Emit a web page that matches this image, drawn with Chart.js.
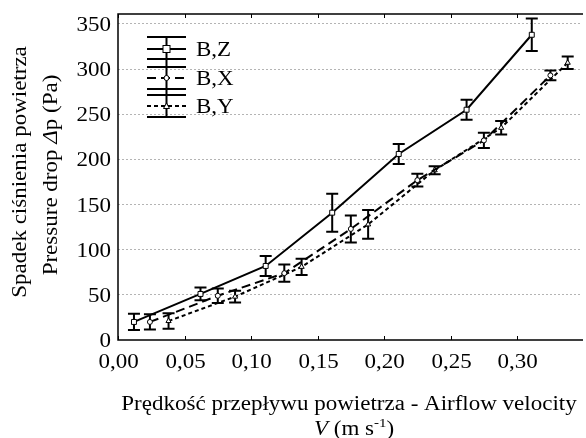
<!DOCTYPE html>
<html>
<head>
<meta charset="utf-8">
<script src="https://cdn.jsdelivr.net/npm/chart.js@4.4.0/dist/chart.umd.min.js"></script>
<style>
  html, body { margin: 0; padding: 0; background: #fff; }
  #wrap { width: 586px; height: 438px; position: relative; }
</style>
</head>
<body>
<div id="wrap"><canvas id="chart"></canvas></div>
<script>
// values
const seriesNames = ["B,Z", "B,X", "B,Y"]
const velZ = [0.012, 0.062, 0.111, 0.161, 0.211, 0.262, 0.311]
const dpZ = [20, 51, 82, 141, 206, 255, 338]
const errZ = [9, 7, 11, 21, 11, 11, 18]
const velX = [0.024, 0.075, 0.125, 0.175, 0.225, 0.275, 0.325]
const dpX = [20, 49, 74, 123, 177, 221, 293]
const errX = [8.5, 8, 9.5, 15, 7, 8.5, 5.5]
const velY = [0.038, 0.088, 0.138, 0.188, 0.238, 0.288, 0.338]
const dpY = [21, 48, 81, 128, 188, 235, 307]
const errY = [8.5, 6.5, 9, 16, 4.5, 7.5, 7]
const xTicks = [0, 0.05, 0.10, 0.15, 0.20, 0.25, 0.30]
const yTicks = [0, 50, 100, 150, 200, 250, 300, 350]

const FONT = "'Liberation Serif', 'Times New Roman', serif"
const F20 = "20px " + FONT
const SX = 1.15 // the reference text is a bit wider than plain Times
const errs = [errZ, errX, errY]
const dashes = [[], [9, 5], [4, 3]]

function toPoints(xs, ys) {
    return xs.map((x, i) => ({ x: x, y: ys[i] }))
}

// stretched text at (x, y), alphabetic baseline
function sText(c, str, x, y, font, align) {
    c.save()
    c.font = font
    c.textAlign = align
    c.textBaseline = "alphabetic"
    c.translate(x, y)
    c.scale(SX, 1)
    c.fillText(str, 0, 0)
    c.restore()
}

// text made of pieces with their own font, centred on x
function drawMixed(c, parts, x, y) {
    let total = 0
    parts.forEach(p => { c.font = p[0]; total += c.measureText(p[1]).width * SX })
    let px = x - total / 2
    parts.forEach(p => {
        c.font = p[0]
        const w = c.measureText(p[1]).width * SX
        sText(c, p[1], px, y + p[2], p[0], "left")
        px += w
    })
}

// error bars, drawn under the markers
const errorBars = {
    id: "errorBars",
    beforeDatasetsDraw(chart) {
        const c = chart.ctx
        const xs = chart.scales.x, ys = chart.scales.y
        c.save()
        c.strokeStyle = "#000"
        c.lineWidth = 2
        chart.data.datasets.forEach((ds, k) => {
            ds.data.forEach((p, i) => {
                const px = xs.getPixelForValue(p.x)
                const top = ys.getPixelForValue(p.y + errs[k][i])
                const bot = ys.getPixelForValue(p.y - errs[k][i])
                c.beginPath()
                c.moveTo(px, top); c.lineTo(px, bot)
                c.moveTo(px - 6, top); c.lineTo(px + 6, top)
                c.moveTo(px - 6, bot); c.lineTo(px + 6, bot)
                c.stroke()
            })
        })
        c.restore()
    },
}

// frame, tick marks and labels, legend and axis titles
const decorations = {
    id: "decorations",
    afterDraw(chart) {
        const c = chart.ctx
        const a = chart.chartArea
        const xs = chart.scales.x, ys = chart.scales.y
        c.save()
        c.strokeStyle = "#000"
        c.fillStyle = "#000"
        c.lineWidth = 1.5
        c.beginPath()
        c.moveTo(a.right + 2, a.top); c.lineTo(a.left, a.top)
        c.lineTo(a.left, a.bottom); c.lineTo(a.right + 2, a.bottom)
        c.stroke()
        c.lineWidth = 1
        xTicks.forEach(v => {
            const px = Math.round(xs.getPixelForValue(v)) + 0.5
            c.beginPath()
            c.moveTo(px, a.bottom); c.lineTo(px, a.bottom - 4)
            c.moveTo(px, a.top); c.lineTo(px, a.top + 4)
            c.stroke()
            sText(c, v.toFixed(2).replace(".", ","), px, a.bottom + 28, F20, "center")
        })
        yTicks.forEach(v => {
            sText(c, String(v), a.left - 7, ys.getPixelForValue(v) + 7, F20, "right")
        })

        // legend
        const lx = a.left + 29, lw = 39, cx = lx + lw / 2
        const rows = [49, 78, 106]
        c.lineWidth = 2
        c.beginPath()
        c.moveTo(cx, 37); c.lineTo(cx, 117)
        ;[37, 59, 67, 89, 95, 117].forEach(y => { c.moveTo(lx, y); c.lineTo(lx + lw, y) })
        c.stroke()
        rows.forEach((y, k) => {
            c.setLineDash(dashes[k])
            c.beginPath()
            c.moveTo(lx, y); c.lineTo(lx + lw, y)
            c.stroke()
        })
        c.setLineDash([])
        c.fillStyle = "#fff"
        c.lineWidth = 1
        c.fillRect(cx - 3.5, rows[0] - 3.5, 7, 7); c.strokeRect(cx - 3.5, rows[0] - 3.5, 7, 7)
        c.beginPath(); c.arc(cx, rows[1], 2.5, 0, Math.PI * 2); c.fill(); c.stroke()
        c.beginPath(); c.moveTo(cx, rows[2] - 3); c.lineTo(cx + 3, rows[2] + 2.5); c.lineTo(cx - 3, rows[2] + 2.5); c.closePath(); c.fill(); c.stroke()
        c.fillStyle = "#000"
        seriesNames.forEach((n, k) => sText(c, n, lx + lw + 10, rows[k] + 7, F20, "left"))

        // x title
        sText(c, "Prędkość przepływu powietrza - Airflow velocity", 349, 410, F20, "center")
        drawMixed(c, [["italic " + F20, "V", 0], [F20, " (m s", 0], ["13px " + FONT, "-1", -8], [F20, ")", 0]], 354, 435)

        // y title
        c.save()
        c.translate(26, 172)
        c.rotate(-Math.PI / 2)
        sText(c, "Spadek ciśnienia powietrza", 0, 0, F20, "center")
        c.restore()
        c.save()
        c.translate(57, 175)
        c.rotate(-Math.PI / 2)
        drawMixed(c, [[F20, "Pressure drop ", 0], ["italic " + F20, "Δ", 0], [F20, "p (Pa)", 0]], 0, 0)
        c.restore()
        c.restore()
    },
}

function makeSet(label, xs, ys, k, style, radius) {
    return {
        label: label,
        data: toPoints(xs, ys),
        borderColor: "#000",
        borderWidth: 2,
        borderDash: dashes[k],
        pointStyle: style,
        pointRadius: radius,
        pointBackgroundColor: "#fff",
        pointBorderColor: "#000",
        pointBorderWidth: 1,
        tension: 0,
        fill: false,
    }
}

new Chart(document.getElementById("chart"), {
    type: "line",
    data: {
        datasets: [
            makeSet(seriesNames[0], velZ, dpZ, 0, "rect", 3.5),
            makeSet(seriesNames[1], velX, dpX, 1, "circle", 2.5),
            makeSet(seriesNames[2], velY, dpY, 2, "triangle", 3),
        ],
    },
    options: {
        responsive: true,
        maintainAspectRatio: false,
        animation: false,
        layout: { padding: { top: 14, right: 0, bottom: 0, left: 0 } },
        plugins: { legend: { display: false }, tooltip: { enabled: false } },
        scales: {
            x: {
                type: "linear",
                min: 0,
                max: 0.348,
                afterBuildTicks: s => { s.ticks = xTicks.map(v => ({ value: v })) },
                afterFit: s => { s.height = 98 },
                grid: { display: false, drawTicks: false },
                border: { display: false },
                ticks: { display: false },
            },
            y: {
                min: 0,
                max: 361,
                afterBuildTicks: s => { s.ticks = yTicks.map(v => ({ value: v })) },
                afterFit: s => { s.width = 118 },
                grid: {
                    drawTicks: false,
                    color: ctx => ctx.tick && ctx.tick.value === 0 ? "rgba(0,0,0,0)" : "#b4b4b4",
                    lineWidth: 1,
                },
                border: { display: false, dash: [2, 2] },
                ticks: { display: false },
            },
        },
    },
    plugins: [errorBars, decorations],
})
</script>
</body>
</html>
